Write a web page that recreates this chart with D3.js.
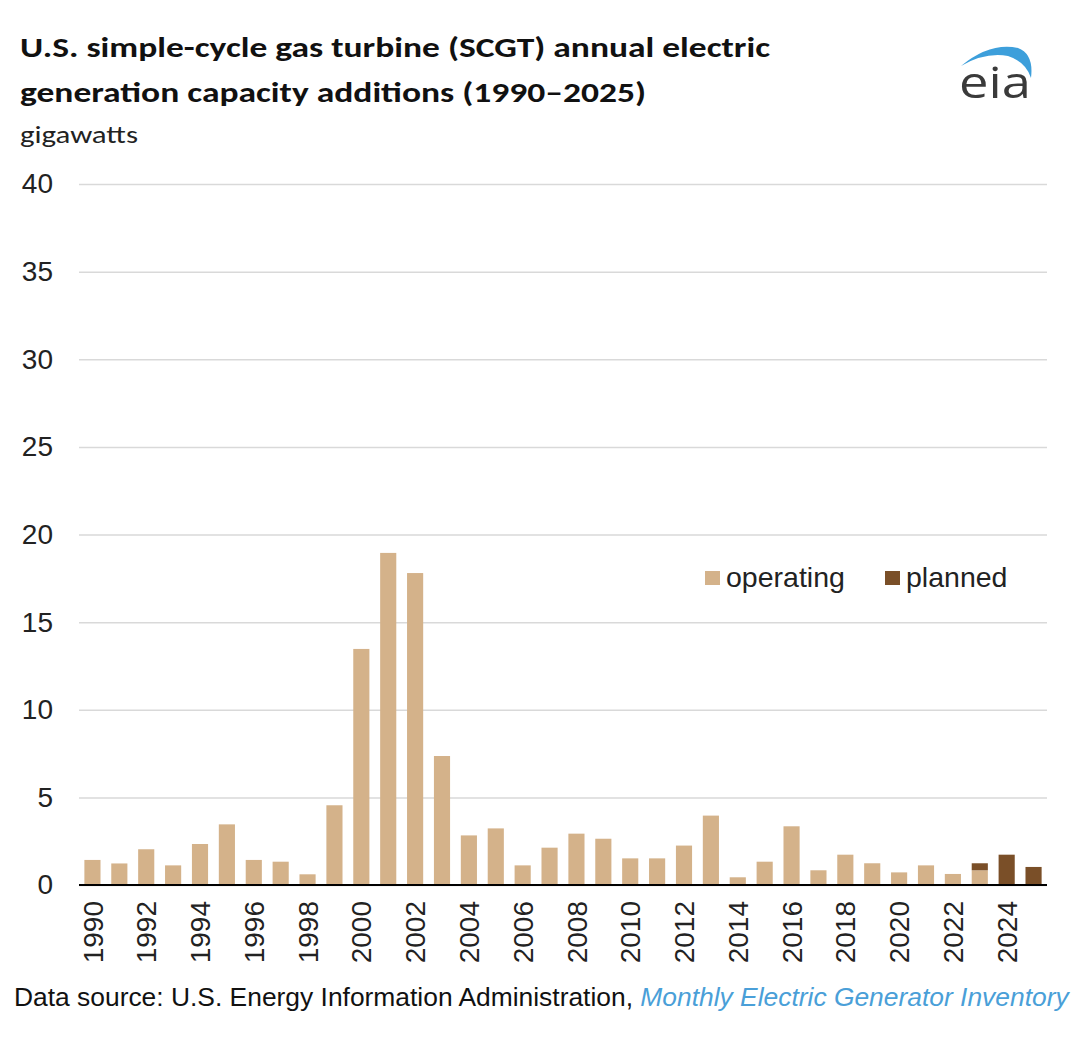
<!DOCTYPE html>
<html><head><meta charset="utf-8">
<script src="https://cdn.jsdelivr.net/npm/d3@7"></script>
<style>body{margin:0;background:#fff}</style>
</head><body>
<script>
const years = d3.range(1990, 2026).map(String);
const operating = [1.43,1.23,2.04,1.12,2.34,3.46,1.43,1.33,0.61,4.55,13.47,18.95,17.8,7.36,2.83,3.23,1.12,2.13,2.93,2.64,1.52,1.52,2.25,3.96,0.44,1.33,3.35,0.84,1.73,1.24,0.72,1.12,0.63,0.84,0,0];
const planned = [0,0,0,0,0,0,0,0,0,0,0,0,0,0,0,0,0,0,0,0,0,0,0,0,0,0,0,0,0,0,0,0,0,0.40,1.73,1.03];
const seriesNames = ["operating","planned"];
const colors = ["#D4B28A","#7A4F28"];
const yTicks = [0,5,10,15,20,25,30,35,40];

const W=1082,H=1042;
const af="'Liberation Sans', Arial, sans-serif";
const svg=d3.select("body").append("svg").attr("width",W).attr("height",H);
const m={l:79,r:1047,t:184,b:885};
const x=d3.scaleBand().domain(years).range([m.l,m.r]).paddingInner(0.4).paddingOuter(0.2);
const y=d3.scaleLinear().domain([0,40]).range([m.b,m.t]);

// grid
const ga=svg.append("g").attr("transform",`translate(${m.l},0)`)
 .call(d3.axisLeft(y).tickValues(yTicks).tickSize(-(m.r-m.l)).tickPadding(26));
ga.select(".domain").remove();
ga.selectAll(".tick line").attr("stroke","#d9d9d9").attr("stroke-width",1.5);
ga.selectAll(".tick text").attr("font-family",af).attr("font-size",28).attr("fill","#222");

// bars
const data=years.map((yr,i)=>({year:yr,operating:operating[i],planned:planned[i]}));
const stack=d3.stack().keys(seriesNames)(data);
svg.append("g").selectAll("g").data(stack).join("g").attr("fill",(d,i)=>colors[i])
 .selectAll("rect").data(d=>d).join("rect")
 .attr("x",d=>x(d.data.year)).attr("width",x.bandwidth())
 .attr("y",d=>y(d[1])).attr("height",d=>y(d[0])-y(d[1]));

// x axis
const xa=svg.append("g").attr("transform",`translate(0,${m.b})`)
 .call(d3.axisBottom(x).tickValues(years.filter((d,i)=>i%2===0)).tickSize(0));
xa.select(".domain").attr("stroke","#000").attr("stroke-width",2).attr("d",`M${m.l},0H${m.r}`);
xa.selectAll(".tick text").attr("font-family",af).attr("font-size",28).attr("fill","#222")
 .attr("transform","rotate(-90)").attr("text-anchor","end").attr("x",-16).attr("y",0).attr("dy","0.36em");

// legend
const lg=svg.append("g").attr("font-family",af).attr("font-size",28.5).attr("fill","#222");
[[705,"operating"],[885,"planned"]].forEach((d,i)=>{
 lg.append("rect").attr("x",d[0]).attr("y",571).attr("width",15).attr("height",14).attr("fill",colors[i]);
 lg.append("text").attr("x",d[0]+21).attr("y",587).text(d[1]);
});

// title
const tf="Carlito, 'Open Sans', sans-serif";
svg.append("text").attr("x",20).attr("y",57).attr("font-family",tf).attr("font-weight","bold").attr("font-size",29).attr("fill","#111")
 .attr("textLength",750).attr("lengthAdjust","spacingAndGlyphs").text("U.S. simple-cycle gas turbine (SCGT) annual electric");
svg.append("text").attr("x",20).attr("y",102).attr("font-family",tf).attr("font-weight","bold").attr("font-size",29).attr("fill","#111")
 .attr("textLength",626).attr("lengthAdjust","spacingAndGlyphs").text("generation capacity additions (1990–2025)");
svg.append("text").attr("x",20).attr("y",143).attr("font-family",tf).attr("font-size",25).attr("fill","#222")
 .attr("textLength",118).attr("lengthAdjust","spacingAndGlyphs").text("gigawatts");

// logo
svg.append("path").attr("d","M961,66 Q990,42 1018,48 Q1034,54 1031,78 Q1026,62 1008,56 Q985,52 961,66Z").attr("fill","#3D9FDB");
svg.append("text").attr("x",959).attr("y",98).attr("font-family","'Open Sans', sans-serif").attr("font-size",44).attr("fill","#3a3a3a")
 .attr("textLength",72).attr("lengthAdjust","spacingAndGlyphs").text("eia");

// source
const st=svg.append("text").attr("x",14).attr("y",1006).attr("font-family",af).attr("font-size",26.4).attr("fill","#111");
st.append("tspan").text("Data source: U.S. Energy Information Administration, ");
st.append("tspan").attr("font-style","italic").attr("fill","#4A9FD8").text("Monthly Electric Generator Inventory");
</script>
</body></html>
